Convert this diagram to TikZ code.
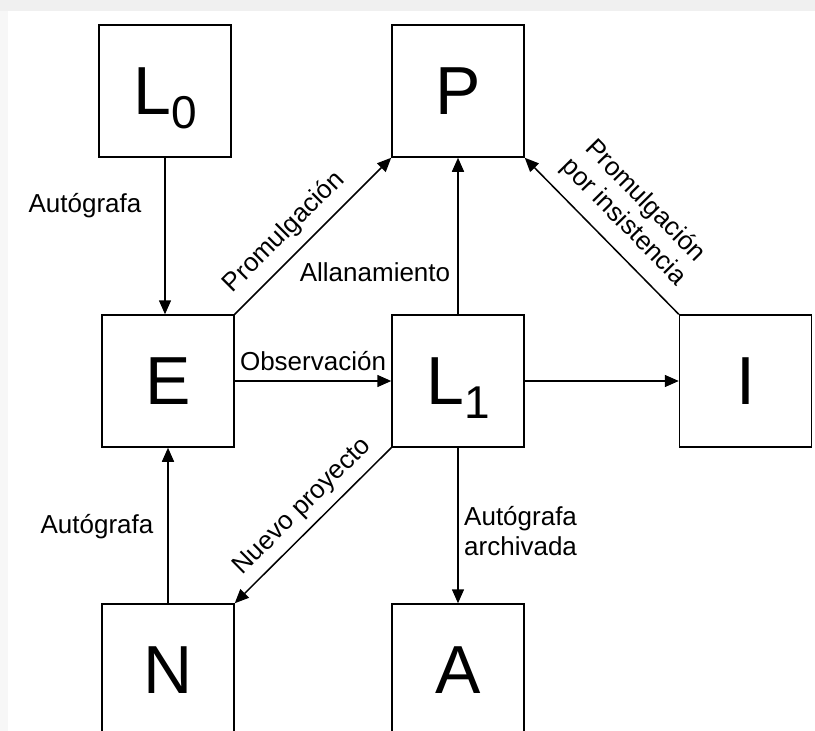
\documentclass[tikz,border=0pt]{standalone}
\usepackage{fontspec}
\setmainfont{Liberation Sans}
\usetikzlibrary{arrows.meta}
\newcommand\subidx[1]{\raisebox{-14pt}[0pt][0pt]{\fontsize{46}{46}\selectfont #1}}
\begin{document}
\begin{tikzpicture}[x=1pt,y=-1pt,
  box/.style={draw=black, line width=1.5pt, minimum width=132pt, minimum height=132pt, inner sep=0pt, font=\fontsize{68}{68}\selectfont},
  conn/.style={line width=1.5pt, -{Triangle[length=14pt,width=12pt]}},
  lbl/.style={font=\fontsize{26}{30}\selectfont, inner sep=0pt, align=center},
]
\useasboundingbox (0,0) rectangle (815,731);
\clip (0,0) rectangle (815,731);
\fill[gray!12] (0,0) rectangle (815,11);
\fill[gray!6] (0,11) rectangle (8,731);

\node[box] (L0) at (165,91) {L\subidx{0}};
\node[box] (P)  at (458,91) {P};
\node[box] (E)  at (168,381) {E};
\node[box] (L1) at (458,381) {L\subidx{1}};
\node[box] (I)  at (745.5,381) {I};
\node[box] (N)  at (168,670) {N};
\node[box] (A)  at (458,670) {A};

\draw[conn] (L0.south) -- (L0.south |- E.north);
\draw[conn] (N.north) -- (N.north |- E.south);
\draw[conn] (E.east) -- node[lbl, above=9pt] {Observación} (L1.west);
\draw[conn] (L1.east) -- (I.west);
\draw[conn] (L1.north) -- (P.south);
\draw[conn] (L1.south) -- (A.north);
\draw[conn] (E.north east) -- node[lbl, sloped, pos=0.42, above=10pt] {Promulgación} (P.south west);
\draw[conn] (I.north west) -- node[lbl, sloped, pos=0.475, above=12pt] {Promulgación\\por insistencia} (P.south east);
\draw[conn] (L1.south west) -- node[lbl, sloped, pos=0.473, above=8pt] {Nuevo proyecto} (N.north east);

\node[lbl, anchor=base] (la1) at (85,212) {Autógrafa};
\node[lbl, anchor=base] (la2) at (97,533) {Autógrafa};
\node[lbl, anchor=base] (la3) at (375,281) {Allanamiento};
\node[lbl, anchor=north west, align=left] (la4) at (464,506) {Autógrafa\\archivada};
\end{tikzpicture}
\end{document}
